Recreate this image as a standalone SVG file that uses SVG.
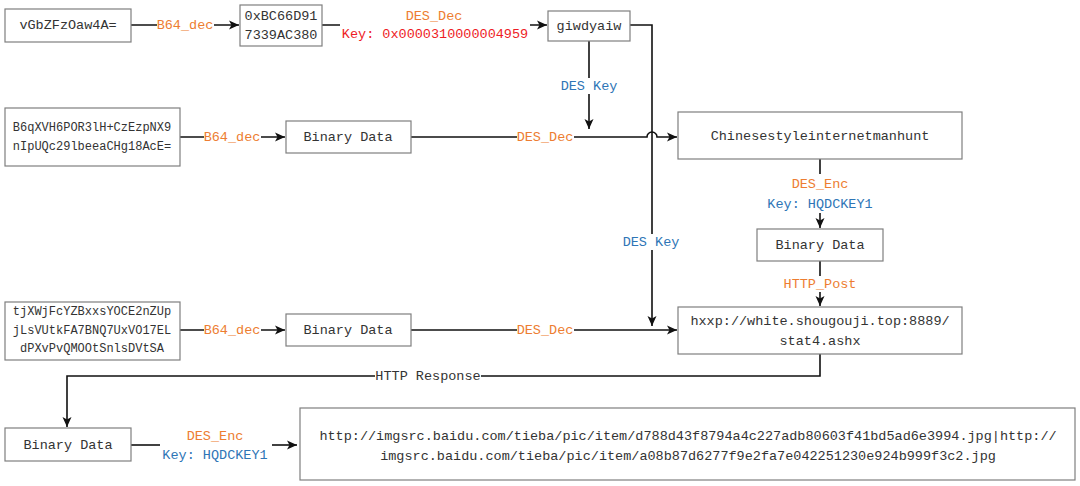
<svg xmlns="http://www.w3.org/2000/svg" width="1080" height="486" viewBox="0 0 1080 486">
<defs>
<marker id="ah" markerUnits="userSpaceOnUse" markerWidth="10" markerHeight="10" refX="10" refY="5" orient="auto">
<path d="M0,0.5 L10,5 L0,9.5 L2.5,5 z" fill="#111"/>
</marker>
<style>
.box{fill:#fff;stroke:#7f7f7f;stroke-width:1.2}
.t{font-family:"Liberation Mono","DejaVu Sans Mono",monospace;font-size:13.5px;fill:#333;text-anchor:middle;dominant-baseline:central}
.s{font-size:12px}
.ln{fill:none;stroke:#111;stroke-width:1.6}
.bg{fill:#fff;stroke:none}
.lb{font-family:"Liberation Mono","DejaVu Sans Mono",monospace;font-size:13.5px;text-anchor:middle;dominant-baseline:central}
.or{fill:#ED7D31}
.bl{fill:#2E75B6}
.rd{fill:#EE1C25}
</style>
</defs>
<rect width="1080" height="486" fill="#fff"/>
<g id="connectors">
<path class="ln" d="M131,25 H239" marker-end="url(#ah)"/>
<path class="ln" d="M322,25 H547" marker-end="url(#ah)"/>
<path class="ln" d="M630,25 H652 V326" marker-end="url(#ah)"/>
<path class="ln" d="M589,41 V129" marker-end="url(#ah)"/>
<path class="ln" d="M180,137 H285" marker-end="url(#ah)"/>
<path class="ln" d="M411,137 H647 a5,5 0 0 1 10,0 H677" marker-end="url(#ah)"/>
<path class="ln" d="M820,159 V228" marker-end="url(#ah)"/>
<path class="ln" d="M820,261 V306" marker-end="url(#ah)"/>
<path class="ln" d="M180,330 H285" marker-end="url(#ah)"/>
<path class="ln" d="M411,330 H677" marker-end="url(#ah)"/>
<path class="ln" d="M820,354 V376 H67 V427" marker-end="url(#ah)"/>
<path class="ln" d="M131,445 H160"/>
<path class="ln" d="M272,445 H297" marker-end="url(#ah)"/>
<rect class="bg" x="157" y="17" width="57" height="16"/>
<rect class="bg" x="340" y="6" width="190" height="37"/>
<rect class="bg" x="560" y="78" width="58" height="16"/>
<rect class="bg" x="622" y="234" width="58" height="16"/>
<rect class="bg" x="204" y="129" width="57" height="16"/>
<rect class="bg" x="517" y="129" width="57" height="16"/>
<rect class="bg" x="767" y="174" width="106" height="39"/>
<rect class="bg" x="783" y="276" width="74" height="16"/>
<rect class="bg" x="204" y="322" width="57" height="16"/>
<rect class="bg" x="517" y="322" width="57" height="16"/>
<rect class="bg" x="375" y="368" width="106" height="16"/>
<text class="lb or" x="185" y="25">B64_dec</text>
<text class="lb or" x="434" y="16">DES_Dec</text>
<text class="lb rd" x="435" y="34">Key: 0x0000310000004959</text>
<text class="lb bl" x="589" y="86">DES Key</text>
<text class="lb bl" x="651" y="242">DES Key</text>
<text class="lb or" x="232" y="137">B64_dec</text>
<text class="lb or" x="545" y="137">DES_Dec</text>
<text class="lb or" x="820" y="184">DES_Enc</text>
<text class="lb bl" x="820" y="204">Key: HQDCKEY1</text>
<text class="lb or" x="820" y="284">HTTP_Post</text>
<text class="lb or" x="232" y="330">B64_dec</text>
<text class="lb or" x="545" y="330">DES_Dec</text>
<text class="lb" x="428" y="376" fill="#333">HTTP Response</text>
<text class="lb or" x="215" y="436">DES_Enc</text>
<text class="lb bl" x="215" y="455">Key: HQDCKEY1</text>
</g>
<g id="n1"><rect class="box" x="5" y="9" width="126" height="33"/><text class="t" x="68" y="25.5">vGbZFzOaw4A=</text></g>
<g id="n2"><rect class="box" x="240" y="5" width="82" height="41"/><text class="t" x="281" y="16">0xBC66D91</text><text class="t" x="281" y="35">7339AC380</text></g>
<g id="n3"><rect class="box" x="548" y="11" width="82" height="30"/><text class="t" x="589" y="26">giwdyaiw</text></g>
<g id="n4"><rect class="box" x="5" y="108" width="175" height="58"/><text class="t s" x="92" y="128">B6qXVH6POR3lH+CzEzpNX9</text><text class="t s" x="92" y="147">nIpUQc29lbeeaCHg18AcE=</text></g>
<g id="n5"><rect class="box" x="286" y="121" width="125" height="32"/><text class="t" x="348" y="137">Binary Data</text></g>
<g id="n6"><rect class="box" x="678" y="112" width="284" height="47"/><text class="t" x="820" y="136">Chinesestyleinternetmanhunt</text></g>
<g id="n7"><rect class="box" x="757" y="229" width="126" height="32"/><text class="t" x="820" y="245">Binary Data</text></g>
<g id="n8"><rect class="box" x="5" y="302" width="175" height="58"/><text class="t s" x="92" y="312">tjXWjFcYZBxxsYOCE2nZUp</text><text class="t s" x="92" y="331">jLsVUtkFA7BNQ7UxVO17EL</text><text class="t s" x="92" y="349">dPXvPvQMOOtSnlsDVtSA</text></g>
<g id="n9"><rect class="box" x="286" y="314" width="125" height="32"/><text class="t" x="348" y="330">Binary Data</text></g>
<g id="n10"><rect class="box" x="678" y="307" width="284" height="47"/><text class="t" x="820" y="321">hxxp://white.shougouji.top:8889/</text><text class="t" x="820" y="341">stat4.ashx</text></g>
<g id="n11"><rect class="box" x="5" y="428" width="126" height="33"/><text class="t" x="68" y="445">Binary Data</text></g>
<g id="n12"><rect class="box" x="300" y="408" width="775" height="72"/><text class="t" x="688" y="436">http://imgsrc.baidu.com/tieba/pic/item/d788d43f8794a4c227adb80603f41bd5ad6e3994.jpg|http://</text><text class="t" x="688" y="456">imgsrc.baidu.com/tieba/pic/item/a08b87d6277f9e2fa7e042251230e924b999f3c2.jpg</text></g>
</svg>
